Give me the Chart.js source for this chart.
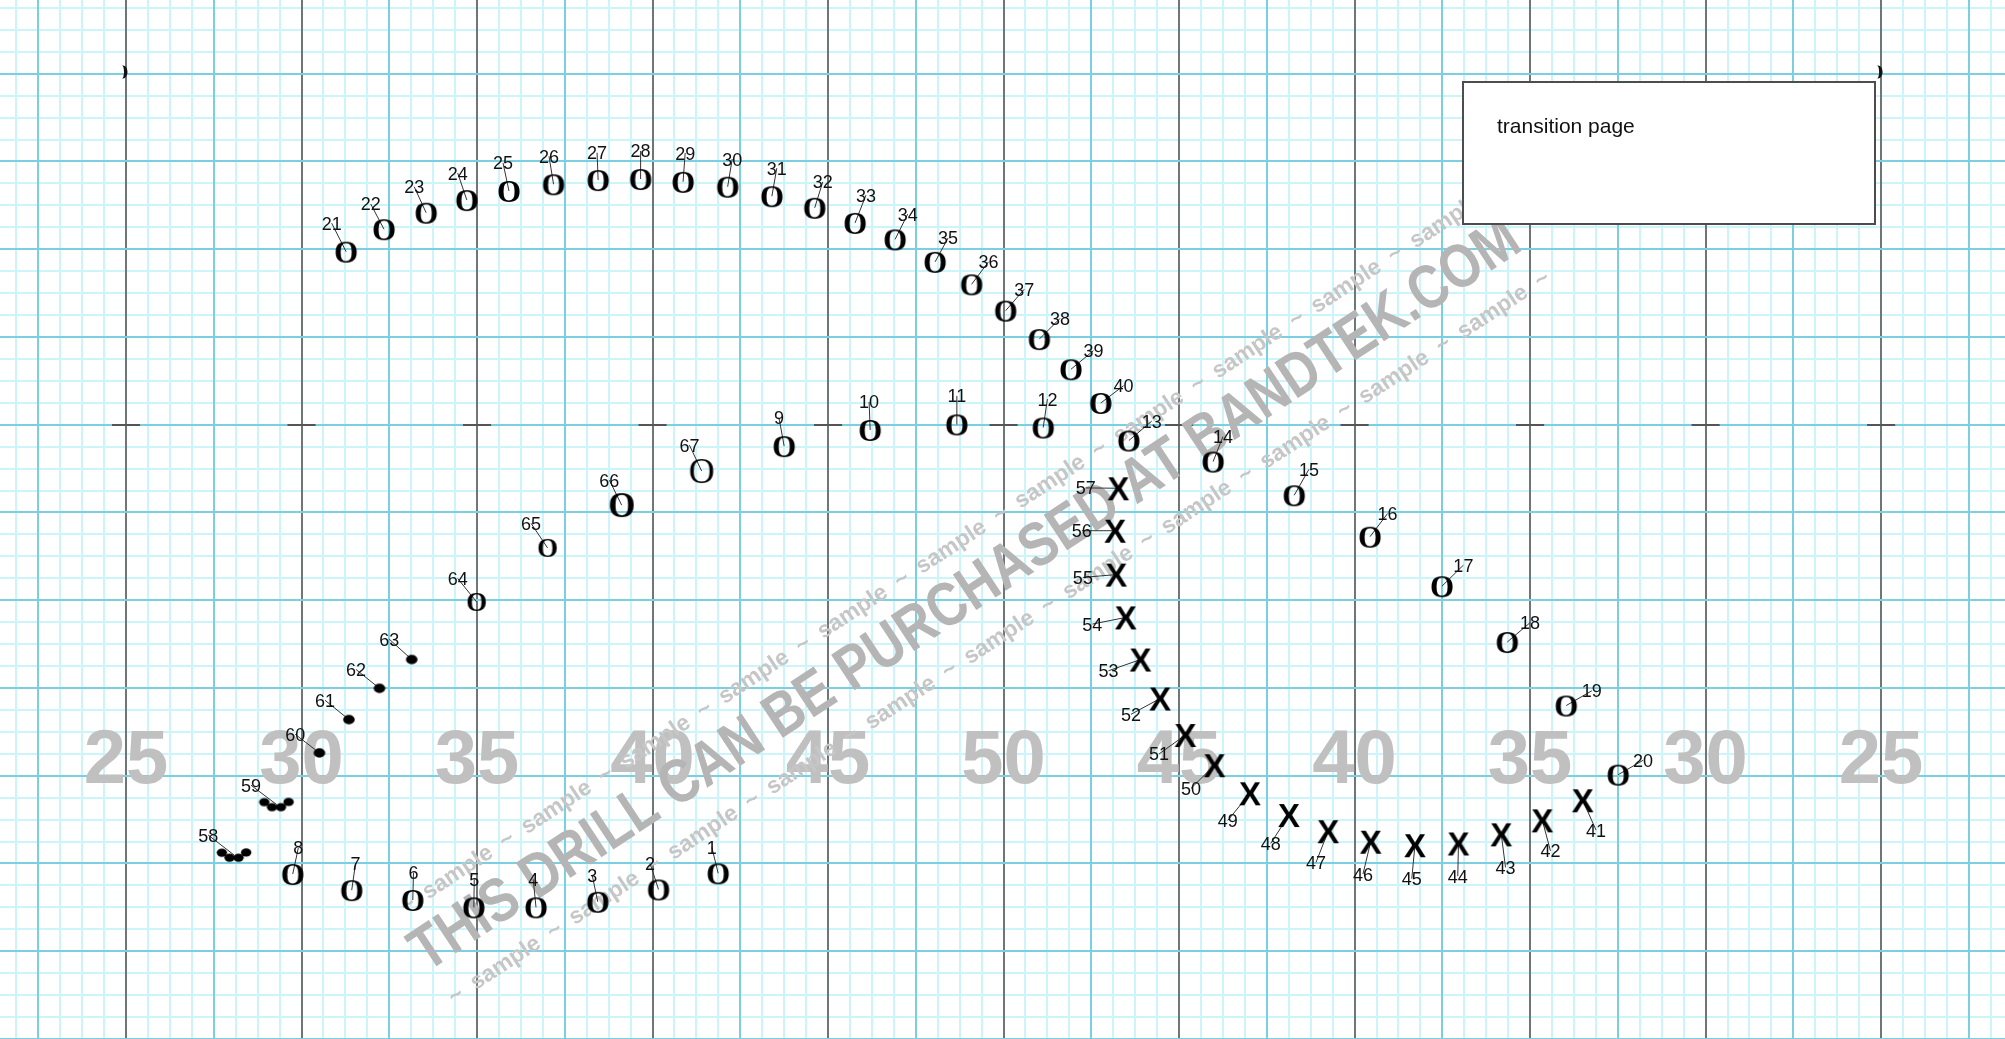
<!DOCTYPE html>
<html>
<head>
<meta charset="UTF-8">
<title>Drill chart - transition page</title>
<script src="https://cdn.jsdelivr.net/npm/chart.js"></script>
<style>
    html, body {
        margin: 0;
        padding: 0;
        background: #ffffff;
        overflow: hidden;
    }
    #wrap {
        width: 2005px;
        height: 1039px;
    }
</style>
</head>
<body>
<div id="wrap"><canvas id="drill" width="2005" height="1039"></canvas></div>
<script>
    // field coordinates in yards: x = yards from the left goal line, y = yards from the hash (down = towards the front)
    const fieldX = [21.41, 78.53];
    const fieldY = [-12.10, 17.50];

    const yardLines = [25, 30, 35, 40, 45, 50, 55, 60, 65, 70, 75];
    const yardLabels = ['25', '30', '35', '40', '45', '50', '45', '40', '35', '30', '25'];

    // performers 1..67
    const posX = [41.87, 40.17, 38.44, 36.68, 34.91, 33.17, 31.43, 29.75, 43.75, 46.20,
        48.67, 51.13, 53.57, 55.97, 58.28, 60.44, 62.49, 64.35, 66.03, 67.51,
        31.27, 32.35, 33.55, 34.71, 35.91, 37.18, 38.45, 39.66, 40.87, 42.14,
        43.40, 44.62, 45.77, 46.91, 48.05, 49.09, 50.06, 51.02, 51.92, 52.77,
        66.50, 65.35, 64.18, 62.96, 61.72, 60.46, 59.25, 58.13, 57.02, 56.01,
        55.18, 54.46, 53.90, 53.48, 53.21, 53.18, 53.27, 28.08, 29.29, 30.51,
        31.35, 32.22, 33.14, 34.99, 37.01, 39.12, 41.40];
    const posY = [12.78, 13.24, 13.59, 13.75, 13.75, 13.54, 13.26, 12.80, 0.61, 0.15,
        -0.01, 0.08, 0.45, 1.05, 2.01, 3.19, 4.60, 6.19, 8.00, 9.97,
        -4.93, -5.57, -6.04, -6.40, -6.66, -6.85, -6.97, -7.00, -6.92, -6.78,
        -6.51, -6.18, -5.75, -5.28, -4.64, -4.00, -3.25, -2.44, -1.58, -0.62,
        10.70, 11.27, 11.67, 11.93, 11.98, 11.88, 11.58, 11.12, 10.50, 9.70,
        8.84, 7.80, 6.69, 5.49, 4.27, 3.02, 1.81, 12.26, 10.82, 9.35,
        8.40, 7.51, 6.69, 5.05, 3.51, 2.29, 1.32];
    const symbols = [
        'O', 'O', 'O', 'O', 'O', 'O', 'O', 'O', 'O', 'O',
        'O', 'O', 'O', 'O', 'O', 'O', 'O', 'O', 'O', 'O',
        'O', 'O', 'O', 'O', 'O', 'O', 'O', 'O', 'O', 'O',
        'O', 'O', 'O', 'O', 'O', 'O', 'O', 'O', 'O', 'O',
        'X', 'X', 'X', 'X', 'X', 'X', 'X', 'X', 'X', 'X',
        'X', 'X', 'X', 'X', 'X', 'X', 'X', 'quad', 'quad', 'dot',
        'dot', 'dot', 'dot', 'Os', 'Os', 'OL', 'o'];
    const labelX = [41.69, 39.93, 38.28, 36.60, 34.92, 33.19, 31.54, 29.91, 43.60, 46.17,
        48.67, 51.25, 54.22, 56.25, 58.70, 60.94, 63.10, 65.00, 66.76, 68.22,
        30.86, 31.97, 33.21, 34.45, 35.74, 37.05, 38.42, 39.66, 40.93, 42.27,
        43.54, 44.85, 46.08, 47.27, 48.42, 49.57, 50.59, 51.61, 52.56, 53.42,
        66.88, 65.58, 64.30, 62.94, 61.63, 60.24, 58.90, 57.61, 56.39, 55.34,
        54.43, 53.63, 52.99, 52.53, 52.26, 52.23, 52.34, 27.34, 28.56, 29.82,
        30.67, 31.55, 32.50, 34.45, 36.54, 38.77, 41.05];
    const labelY = [12.04, 12.50, 12.83, 12.95, 12.95, 12.76, 12.49, 12.05, -0.21, -0.65,
        -0.82, -0.73, -0.10, 0.34, 1.27, 2.53, 4.00, 5.64, 7.58, 9.56,
        -5.74, -6.29, -6.78, -7.17, -7.46, -7.65, -7.75, -7.80, -7.74, -7.57,
        -7.31, -6.92, -6.54, -6.00, -5.32, -4.64, -3.86, -3.03, -2.11, -1.11,
        11.55, 12.14, 12.61, 12.86, 12.93, 12.80, 12.47, 11.93, 11.27, 10.36,
        9.38, 8.25, 7.01, 5.68, 4.35, 3.02, 1.80, 11.69, 10.27, 8.82,
        7.85, 6.97, 6.11, 4.38, 2.81, 1.58, 0.58];

    const noteText = 'transition page';
    const noteBox = [63.09, -9.76, 74.83, -5.72];   // left, top, right, bottom (yards)
    const watermark = 'THIS DRILL CAN BE PURCHASED AT BANDTEK.COM';
    const sampleLine = '~  sample  '.repeat(11) + '~';

    // ---- point glyphs ----
    function glyph(ch, font, w, h) {
        const c = document.createElement('canvas');
        c.width = w; c.height = h;
        const g = c.getContext('2d');
        g.font = font;
        g.fillStyle = '#000';
        g.textAlign = 'center';
        g.textBaseline = 'alphabetic';
        const m = g.measureText(ch);
        g.fillText(ch, w / 2, h / 2 + (m.actualBoundingBoxAscent - m.actualBoundingBoxDescent) / 2);
        return c;
    }
    function dots(offsets, rx, ry, w, h) {
        const c = document.createElement('canvas');
        c.width = w; c.height = h;
        const g = c.getContext('2d');
        g.fillStyle = '#000';
        offsets.forEach(([dx, dy]) => {
            g.beginPath();
            g.ellipse(w / 2 + dx, h / 2 + dy, rx, ry, 0, 0, Math.PI * 2);
            g.fill();
        });
        return c;
    }
    const glyphs = {
        O: glyph('O', "bold 31px 'Liberation Serif'", 40, 40),
        Os: glyph('O', "bold 27px 'Liberation Serif'", 40, 40),
        OL: glyph('O', "bold 35px 'Liberation Serif'", 44, 44),
        o: glyph('O', "36px 'Liberation Serif'", 44, 44),
        X: glyph('X', "bold 33px 'Liberation Sans'", 40, 40),
        dot: dots([[0, 0]], 5.8, 4.7, 16, 14),
        quad: dots([[-12.3, -2.4], [-4.6, 2.6], [4.4, 2.6], [12, -2.6]], 5.2, 4.2, 40, 18)
    };

    const groups = Object.keys(glyphs);
    const datasets = groups.map(s => ({
        label: s,
        data: posX.map((x, i) => ({x: x, y: posY[i], s: symbols[i]})).filter(p => p.s === s),
        pointStyle: glyphs[s],
        pointRadius: 10
    }));

    // ---- grid: one step (5 yards / 8) per minor line, blue every 4 steps, yard lines every 8 ----
    function stepTicks(origin, step) {
        return scale => {
            const ticks = [];
            const first = Math.ceil((scale.min - origin) / step - 1e-9);
            const last = Math.floor((scale.max - origin) / step + 1e-9);
            for (let k = first; k <= last; k++) ticks.push({value: origin + k * step});
            scale.ticks = ticks;
        };
    }
    const MINOR = '#cbf5fb', BLUE = '#7ccfe0', GRAY = '#6f7677';
    function axis(range, pos, origin, step, color, width, z) {
        return {
            type: 'linear', position: pos, min: range[0], max: range[1],
            afterBuildTicks: stepTicks(origin, step),
            ticks: {display: false, autoSkip: false},
            border: {display: false},
            grid: {drawTicks: false, color: color, lineWidth: width, z: z}
        };
    }

    const fieldArt = {
        id: 'fieldArt',
        beforeDatasetsDraw(chart) {
            const {ctx, scales: {x, y}} = chart;
            ctx.save();

            // yard numbers
            ctx.font = "bold 76px 'Liberation Sans'";
            ctx.fillStyle = '#c0c0c0';
            ctx.textAlign = 'center';
            ctx.textBaseline = 'alphabetic';
            const numY = y.getPixelForValue(9.44);
            yardLines.forEach((yl, i) => {
                const m = ctx.measureText(yardLabels[i]);
                ctx.fillText(yardLabels[i], x.getPixelForValue(yl), numY + m.actualBoundingBoxAscent / 2);
            });

            // hash marks
            ctx.strokeStyle = '#555';
            ctx.lineWidth = 2;
            const hy = Math.round(y.getPixelForValue(0));
            yardLines.forEach(yl => {
                ctx.beginPath();
                ctx.moveTo(x.getPixelForValue(yl - 0.4), hy);
                ctx.lineTo(x.getPixelForValue(yl + 0.4), hy);
                ctx.stroke();
            });

            // watermark
            ctx.translate(x.getPixelForValue(48.87), y.getPixelForValue(4.80));
            ctx.rotate(-33.4 * Math.PI / 180);
            ctx.font = "bold 62px 'Liberation Sans'";
            const squeeze = 1315 / ctx.measureText(watermark).width;
            const cap = ctx.measureText('T').actualBoundingBoxAscent;
            ctx.fillStyle = '#b5b5b5';
            ctx.save();
            ctx.scale(squeeze, 1);
            ctx.fillText(watermark, 0, cap / 2);
            ctx.restore();
            ctx.font = "bold 23px 'Liberation Sans'";
            ctx.fillStyle = '#c6c6c6';
            ctx.fillText(sampleLine, 15, -46 + 7);
            ctx.fillText(sampleLine, 5, 56 + 7);
            ctx.setTransform(1, 0, 0, 1, 0, 0);

            // leader lines
            ctx.strokeStyle = '#333';
            ctx.lineWidth = 1;
            posX.forEach((px, i) => {
                ctx.beginPath();
                ctx.moveTo(x.getPixelForValue(labelX[i]), y.getPixelForValue(labelY[i]));
                ctx.lineTo(x.getPixelForValue(px), y.getPixelForValue(posY[i]));
                ctx.stroke();
            });
            ctx.restore();
        },
        afterDatasetsDraw(chart) {
            const {ctx, scales: {x, y}} = chart;
            ctx.save();

            // performer numbers
            ctx.font = "18px 'Liberation Sans'";
            ctx.fillStyle = '#111';
            ctx.textAlign = 'center';
            ctx.textBaseline = 'alphabetic';
            labelX.forEach((lx, i) => {
                ctx.fillText(String(i + 1), x.getPixelForValue(lx), y.getPixelForValue(labelY[i]) + 6.5);
            });

            // sideline marks
            ctx.fillStyle = '#111';
            [25, 75].forEach(yl => {
                const cx = x.getPixelForValue(yl) - 3, cy = y.getPixelForValue(-10.05);
                ctx.beginPath();
                ctx.ellipse(cx, cy, 4.5, 6.5, 0, -Math.PI / 2, Math.PI / 2);
                ctx.ellipse(cx - 1, cy, 2, 6.5, 0, Math.PI / 2, -Math.PI / 2, true);
                ctx.fill();
            });

            // note box
            const l = x.getPixelForValue(noteBox[0]), t = y.getPixelForValue(noteBox[1]);
            const r = x.getPixelForValue(noteBox[2]), b = y.getPixelForValue(noteBox[3]);
            ctx.fillStyle = '#ffffff';
            ctx.fillRect(l, t, r - l, b - t);
            ctx.strokeStyle = '#4d4d4d';
            ctx.lineWidth = 2;
            ctx.strokeRect(Math.round(l), Math.round(t), Math.round(r - l), Math.round(b - t));
            ctx.fillStyle = '#111';
            ctx.textAlign = 'left';
            ctx.font = "21px 'Liberation Sans'";
            ctx.fillText(noteText, l + 34, t + 51);
            ctx.restore();
        }
    };

    new Chart(document.getElementById('drill'), {
        type: 'scatter',
        data: {datasets: datasets},
        options: {
            responsive: false,
            animation: false,
            events: [],
            layout: {padding: 0, autoPadding: false},
            plugins: {legend: {display: false}, tooltip: {enabled: false}},
            scales: {
                x: axis(fieldX, 'bottom', 25, 0.625, MINOR, 2, -3),
                y: Object.assign(axis(fieldY, 'left', 0, 0.625, MINOR, 2, -3), {reverse: true}),
                x2: axis(fieldX, 'top', 25, 2.5,
                    c => Math.abs(Math.round((c.tick.value - 25) / 2.5)) % 2 === 0 ? GRAY : BLUE, 2, -2),
                y2: Object.assign(axis(fieldY, 'right', 0, 2.5, BLUE, 2, -2), {reverse: true})
            }
        },
        plugins: [fieldArt]
    });
</script>
</body>
</html>
